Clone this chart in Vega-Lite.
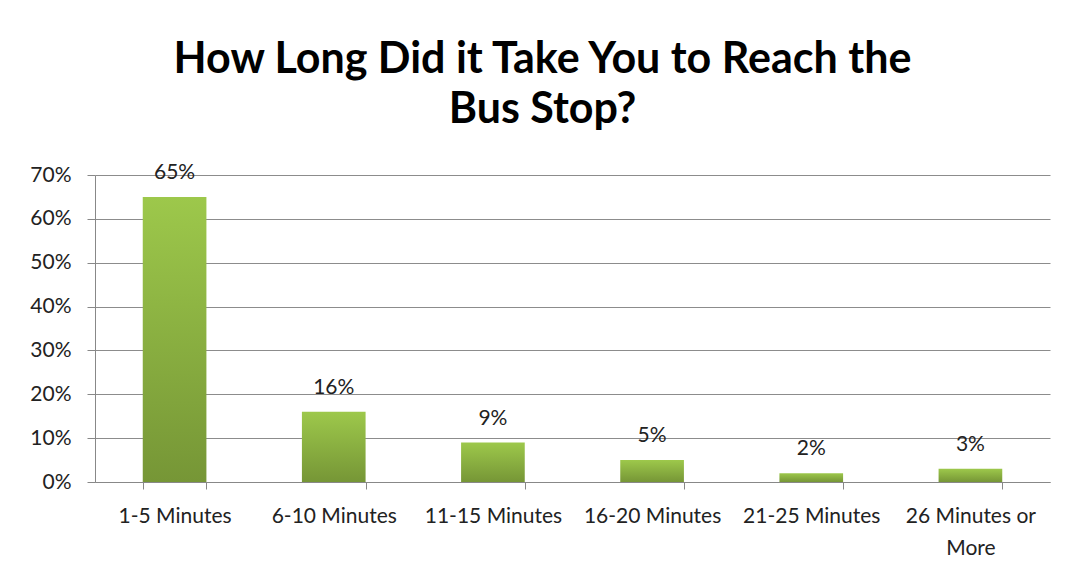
{
  "$schema": "https://vega.github.io/schema/vega-lite/v6.json",
  "width": 955,
  "height": 307,
  "autosize": {"type": "none"},
  "padding": {"left": 95, "top": 175, "right": 21, "bottom": 97},
  "background": "white",
  "title": {
    "text": ["How Long Did it Take You to Reach the", "Bus Stop?"],
    "font": "Lato",
    "fontSize": 43,
    "fontWeight": "bold",
    "color": "black",
    "lineHeight": 50,
    "anchor": "middle",
    "dx": -30,
    "offset": 30
  },
  "data": {
    "values": [
      {"category": "1-5 Minutes", "pct": 0.65},
      {"category": "6-10 Minutes", "pct": 0.16},
      {"category": "11-15 Minutes", "pct": 0.09},
      {"category": "16-20 Minutes", "pct": 0.05},
      {"category": "21-25 Minutes", "pct": 0.02},
      {"category": "26 Minutes or More", "pct": 0.03}
    ]
  },
  "encoding": {
    "x": {
      "field": "category",
      "type": "nominal",
      "sort": null,
      "scale": {"paddingInner": 0.6, "paddingOuter": 0.3},
      "axis": {
        "title": null,
        "labelAngle": 0,
        "labelFont": "Lato",
        "labelFontSize": 21,
        "labelColor": "#222",
        "labelPadding": 16,
        "labelLineHeight": 32,
        "labelBaseline": "top",
        "labelExpr": "datum.value == '26 Minutes or More' ? ['26 Minutes or', 'More'] : datum.value",
        "tickBand": "extent",
        "tickSize": 7,
        "tickColor": "#888",
        "domainColor": "#888",
        "labelLimit": 400
      }
    },
    "y": {
      "field": "pct",
      "type": "quantitative",
      "scale": {"domain": [0, 0.7], "nice": false},
      "axis": {
        "title": null,
        "format": ".0%",
        "values": [0, 0.1, 0.2, 0.3, 0.4, 0.5, 0.6, 0.7],
        "labelFont": "Lato",
        "labelFontSize": 21,
        "labelColor": "#222",
        "labelPadding": 16,
        "tickSize": 8,
        "tickColor": "#888",
        "domainColor": "#888",
        "gridColor": "#8c8c8c",
        "grid": true
      }
    }
  },
  "layer": [
    {
      "mark": {
        "type": "bar",
        "color": {
          "gradient": "linear",
          "x1": 0, "y1": 0, "x2": 0, "y2": 1,
          "stops": [
            {"offset": 0, "color": "#9dc84b"},
            {"offset": 1, "color": "#769636"}
          ]
        }
      }
    },
    {
      "mark": {
        "type": "text",
        "font": "Lato",
        "fontSize": 21,
        "color": "#222",
        "baseline": "alphabetic",
        "dy": -18
      },
      "encoding": {
        "text": {"field": "pct", "type": "quantitative", "format": ".0%"}
      }
    }
  ],
  "config": {
    "view": {"stroke": null}
  }
}
